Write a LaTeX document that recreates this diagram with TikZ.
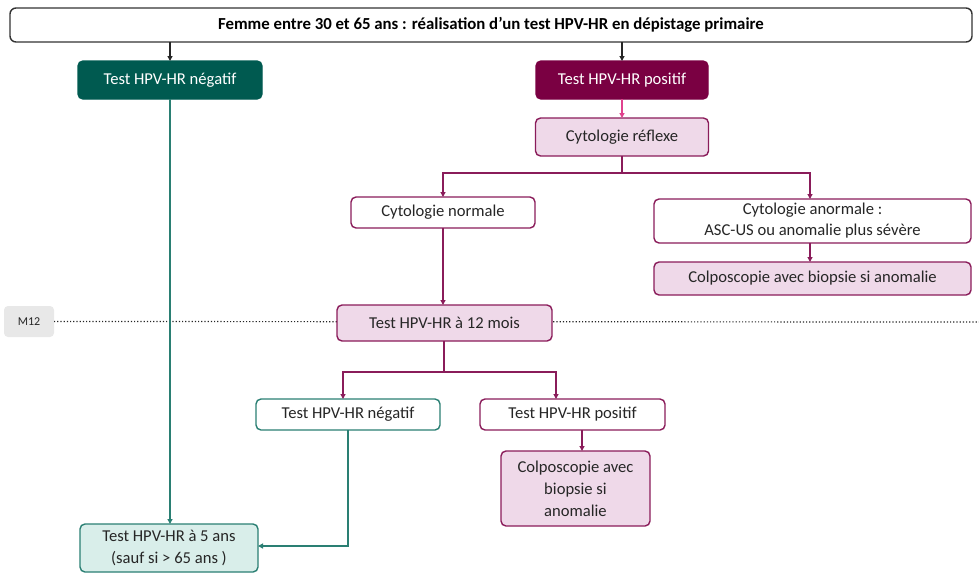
\documentclass[tikz,border=0pt]{standalone}
\usepackage{fontspec}
\setmainfont{Carlito}
\usetikzlibrary{arrows.meta,positioning}
\definecolor{dgreen}{HTML}{005A50}
\definecolor{teal2}{HTML}{2A7F73}
\definecolor{lteal}{HTML}{D9EEEA}
\definecolor{dmag}{HTML}{7A0042}
\definecolor{mag}{HTML}{8A1C5A}
\definecolor{lpink}{HTML}{EFD9E9}
\definecolor{bpink}{HTML}{E0428E}
\definecolor{mgrey}{HTML}{E8E8E8}
\begin{document}
\begin{tikzpicture}[x=1pt,y=-1pt,
  every node/.style={inner sep=0pt,outer sep=0pt,align=center,font=\fontsize{16.6}{21}\selectfont},
  boxbase/.style={rounded corners=5pt,line width=1.4pt,draw},
  darkg/.style={boxbase,draw=dgreen,fill=dgreen,text=white},
  darkm/.style={boxbase,draw=dmag,fill=dmag,text=white},
  pinkbox/.style={boxbase,draw=mag,fill=lpink,text=black!85},
  whitem/.style={boxbase,draw=mag,fill=white,text=black!85},
  whiteg/.style={boxbase,draw=teal2,fill=white,text=black!85},
  tealbox/.style={boxbase,draw=teal2,fill=lteal,text=black!85},
  arr/.style={-{Triangle[length=5pt,width=5pt]},line width=1.2pt},
  marr/.style={arr,draw=mag},
  garr/.style={arr,draw=teal2},
]
\useasboundingbox (0,0) rectangle (979,574);
% top
\node[boxbase,draw=black!80,fill=white,minimum width=962pt,minimum height=34pt,rounded corners=6pt,font=\fontsize{16.8}{20}\selectfont\bfseries] (top) at (491,25) {Femme entre 30 et 65 ans : réalisation d’un test HPV-HR en dépistage primaire};
\node[darkg,minimum width=184pt,minimum height=38pt] (neg1) at (170,80) {Test HPV-HR négatif};
\node[darkm,minimum width=172pt,minimum height=38pt] (pos1) at (622,80) {Test HPV-HR positif};
\node[pinkbox,minimum width=173pt,minimum height=38pt] (refl) at (622,137) {Cytologie réflexe};
\node[whitem,minimum width=184pt,minimum height=31pt] (norm) at (443,212.5) {Cytologie normale};
\node[whitem,minimum width=317pt,minimum height=44pt] (anorm) at (812.5,221) {Cytologie anormale :\\ASC-US ou anomalie plus sévère};
\node[pinkbox,minimum width=317pt,minimum height=33pt] (colpo1) at (812.5,278.5) {Colposcopie avec biopsie si anomalie};
\node[rounded corners=4pt,fill=mgrey,minimum width=50pt,minimum height=31pt,font=\fontsize{12}{14}\selectfont,text=black!85] (m12) at (29,321.5) {M12};
\coordinate (dotend) at (979,322);
\draw[dotted,line width=1.2pt,black!85] (m12.east) -- (dotend);
\node[pinkbox,minimum width=215pt,minimum height=36pt] (m12t) at (444.5,323) {Test HPV-HR à 12 mois};
\node[whiteg,minimum width=184pt,minimum height=31pt] (neg2) at (348,414.5) {Test HPV-HR négatif};
\node[whitem,minimum width=185pt,minimum height=31pt] (pos2) at (572.5,414.5) {Test HPV-HR positif};
\node[pinkbox,minimum width=149pt,minimum height=75pt,font=\fontsize{16.6}{22}\selectfont] (colpo2) at (575.5,488.5) {Colposcopie avec\\biopsie si\\anomalie};
\node[tealbox,minimum width=178pt,minimum height=48pt,font=\fontsize{16.6}{22}\selectfont] (five) at (169,548) {Test HPV-HR à 5 ans\\(sauf si > 65 ans )};
% connectors
\draw[arr,draw=black!85] (top.south -| neg1.north) -- (neg1.north);
\draw[arr,draw=black!85] (top.south -| pos1.north) -- (pos1.north);
\draw[arr,draw=bpink] (pos1) -- (refl);
\coordinate (j1) at (622,173);
\coordinate (j1l) at (443,173);
\coordinate (j1r) at (810,173);
\draw[marr] (refl.south) -- (j1) -- (j1l) -- (j1l |- norm.north);
\draw[marr] (j1) -- (j1r) -- (j1r |- anorm.north);
\draw[marr] (anorm.south -| j1r) -- (j1r |- colpo1.north);
\draw[marr] (norm) -- (norm.south |- m12t.north);
\coordinate (j2) at (444,372);
\coordinate (j2l) at (343,372);
\coordinate (j2r) at (556,372);
\draw[marr] (m12t.south -| j2) -- (j2) -- (j2l) -- (j2l |- neg2.north);
\draw[marr] (j2) -- (j2r) -- (j2r |- pos2.north);
\coordinate (c2x) at (582,0);
\draw[marr] (pos2.south -| c2x) -- (c2x |- colpo2.north);
\draw[garr] (neg1.south) -- (neg1.south |- five.north);
\draw[garr] (neg2.south) |- ([yshift=2pt]five.east);
\end{tikzpicture}
\end{document}
